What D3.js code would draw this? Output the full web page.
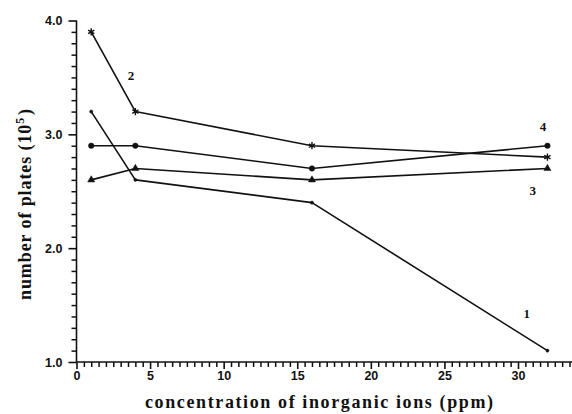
<!DOCTYPE html>
<html>
<head>
<meta charset="utf-8">
<script src="https://cdn.jsdelivr.net/npm/d3@7/dist/d3.min.js"></script>
<style>
  html, body { margin: 0; padding: 0; background: #fff; }
  svg { display: block; }
</style>
</head>
<body>
<svg id="chart" width="572" height="414"></svg>
<script>
// Concentration of inorganic ions (ppm)
const concentrations = [1, 4, 16, 32];

// Number of plates (x 10^5) for each curve
const series1 = [3.2, 2.6, 2.4, 1.1];
const series2 = [3.9, 3.2, 2.9, 2.8];
const series3 = [2.6, 2.7, 2.6, 2.7];
const series4 = [2.9, 2.9, 2.7, 2.9];

const seriesNames = ["1", "2", "3", "4"];
const seriesMarkers = ["dot", "star", "triangle", "circle"];

const xMajorTicks = [0, 5, 10, 15, 20, 25, 30];
const yMajorTicks = [1.0, 2.0, 3.0, 4.0];

const svg = d3.select("#chart");

const x = d3.scaleLinear().domain([0, 30]).range([76.5, 518]);
const y = d3.scaleLinear().domain([1, 4]).range([362, 20.5]);
const xEnd = 33.7;

const ink = "#111";
const sansFont = "'Liberation Sans', Arial, sans-serif";
const serifFont = "'Liberation Serif', 'Times New Roman', serif";

// minor tick values
const xMinor = d3.range(0, 33.6, 0.5).filter(v => Math.abs(v % 5) > 1e-6);
const yMinor = d3.range(1, 4.001, 0.1).map(v => +v.toFixed(1)).filter(v => Math.abs(v - Math.round(v)) > 1e-6);

function styleTickLabels(sel) {
  sel.selectAll("text")
    .attr("fill", ink)
    .style("font-family", sansFont)
    .style("font-weight", "bold")
    .style("font-size", "12.5px");
}

// X axis
const gx = svg.append("g").attr("transform", `translate(0,${y(1)})`);
{
  const gm = gx.append("g").call(d3.axisBottom(x).tickValues(xMinor).tickSize(5).tickFormat(""));
  gm.select(".domain").remove();
  gm.selectAll("line").attr("stroke", ink).attr("stroke-width", 1.5);
  const gM = gx.append("g").call(d3.axisBottom(x).tickValues(xMajorTicks).tickSize(7).tickPadding(2).tickFormat(d3.format("d")));
  gM.select(".domain").remove();
  gM.selectAll("line").attr("stroke", ink).attr("stroke-width", 1.6);
  styleTickLabels(gM);
}
gx.append("line")
  .attr("x1", x(0)).attr("x2", x(xEnd))
  .attr("stroke", ink).attr("stroke-width", 1.6);

// Y axis
const gy = svg.append("g").attr("transform", `translate(${x(0)},0)`);
{
  const gm = gy.append("g").call(d3.axisLeft(y).tickValues(yMinor).tickSize(5).tickFormat(""));
  gm.select(".domain").remove();
  gm.selectAll("line").attr("stroke", ink).attr("stroke-width", 1.5);
  const gM = gy.append("g").call(d3.axisLeft(y).tickValues(yMajorTicks).tickSize(8).tickPadding(6).tickFormat(d3.format(".1f")));
  gM.select(".domain").remove();
  gM.selectAll("line").attr("stroke", ink).attr("stroke-width", 1.6);
  styleTickLabels(gM);
}
gy.append("line")
  .attr("y1", y(1)).attr("y2", y(4))
  .attr("stroke", ink).attr("stroke-width", 1.6);

// Axis titles
svg.append("text")
  .attr("x", 319).attr("y", 408)
  .attr("text-anchor", "middle")
  .attr("fill", ink)
  .attr("textLength", 348)
  .attr("lengthAdjust", "spacing")
  .style("font-family", serifFont)
  .style("font-weight", "bold")
  .style("font-size", "18px")
  .text("concentration of inorganic ions (ppm)");

const yt = svg.append("text")
  .attr("transform", "translate(31,204) rotate(-90)")
  .attr("text-anchor", "middle")
  .attr("fill", ink)
  .style("font-family", serifFont)
  .style("font-weight", "bold")
  .style("font-size", "18px")
  .style("letter-spacing", "0.9px");
yt.append("tspan").text("number of plates (10");
yt.append("tspan").attr("dy", -7).style("font-size", "12px").text("5");
yt.append("tspan").attr("dy", 7).attr("dx", 2).text(")");

// Curves
const allSeries = [series1, series2, series3, series4];
const line = d3.line().x((d, i) => x(concentrations[i])).y(d => y(d));

const plot = svg.append("g");
allSeries.forEach((vals, si) => {
  plot.append("path")
    .datum(vals)
    .attr("d", line)
    .attr("fill", "none")
    .attr("stroke", ink)
    .attr("stroke-width", 1.6)
    .attr("stroke-linejoin", "round");

  const kind = seriesMarkers[si];
  const sym = kind === "star" ? d3.symbolAsterisk
            : kind === "triangle" ? d3.symbolTriangle
            : d3.symbolCircle;
  const size = kind === "dot" ? 8 : kind === "star" ? 36 : kind === "triangle" ? 22 : 24;
  plot.selectAll(null)
    .data(vals)
    .join("path")
    .attr("transform", (d, i) => `translate(${x(concentrations[i])},${y(d)})`)
    .attr("d", d3.symbol().type(sym).size(size))
    .attr("fill", ink)
    .attr("stroke", ink)
    .attr("stroke-width", kind === "star" ? 1.4 : 0.5);
});

// Curve numbers
const labelPos = [
  { s: 0, xv: 30.6, yv: 1.39 },
  { s: 1, xv: 3.7, yv: 3.48 },
  { s: 2, xv: 31.0, yv: 2.47 },
  { s: 3, xv: 31.7, yv: 3.03 }
];
svg.append("g").selectAll("text")
  .data(labelPos)
  .join("text")
  .attr("x", d => x(d.xv))
  .attr("y", d => y(d.yv))
  .attr("text-anchor", "middle")
  .attr("fill", ink)
  .style("font-family", serifFont)
  .style("font-weight", "bold")
  .style("font-size", "13px")
  .text(d => seriesNames[d.s]);
</script>
</body>
</html>
